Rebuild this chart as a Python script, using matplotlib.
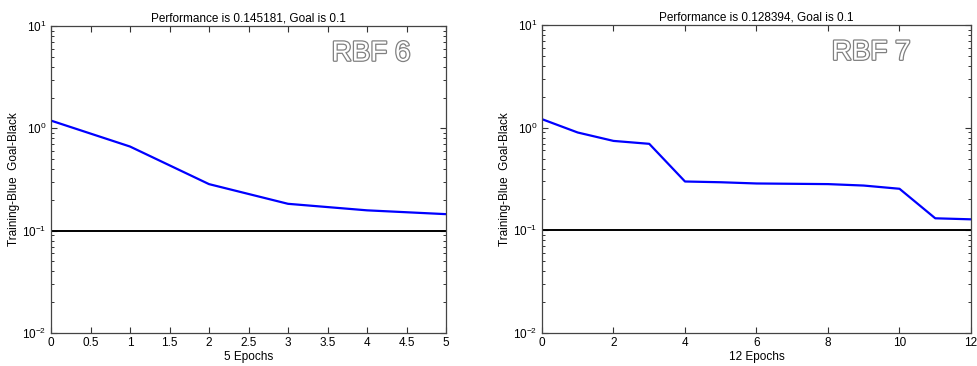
import matplotlib
matplotlib.use("Agg")
import matplotlib.pyplot as plt
import matplotlib.patheffects as pe
from matplotlib.ticker import LogLocator, NullFormatter, FixedLocator

epochs6 = [0, 1, 2, 3, 4, 5]
perf6 = [1.19, 0.664, 0.285, 0.183, 0.158, 0.145]
epochs7 = [0, 1, 2, 3, 4, 5, 6, 7, 8, 9, 10, 11, 12]
perf7 = [1.21, 0.897, 0.743, 0.696, 0.299, 0.294, 0.286, 0.284, 0.282, 0.273, 0.254, 0.131, 0.128]
goal = 0.1
titles = ["Performance is 0.145181, Goal is 0.1", "Performance is 0.128394, Goal is 0.1"]
xlabels = ["5 Epochs", "12 Epochs"]
labels = ["RBF 6", "RBF 7"]
xticks6 = [0, 0.5, 1, 1.5, 2, 2.5, 3, 3.5, 4, 4.5, 5]
xticklabels6 = ["0", "0.5", "1", "1.5", "2", "2.5", "3", "3.5", "4", "4.5", "5"]
xticks7 = [0, 2, 4, 6, 8, 10, 12]
xticklabels7 = ["0", "2", "4", "6", "8", "10", "12"]

plt.rcParams['font.family'] = ['Liberation Sans', 'DejaVu Sans']
fig = plt.figure(figsize=(9.78, 3.66), dpi=100)
W, H = 978, 366
boxes = [(51, 26, 446, 333), (542, 25, 971, 333)]
datasets = [(epochs6, perf6, xticks6, xticklabels6, 5), (epochs7, perf7, xticks7, xticklabels7, 12)]
label_pos = [(0.81, 0.91), (0.767, 0.91)]

for i, (box, (ex, py, xt, xtl, xmax)) in enumerate(zip(boxes, datasets)):
    l, t, r, b = box
    ax = fig.add_axes([l / W, 1 - b / H, (r - l) / W, (b - t) / H])
    ax.set_yscale('log')
    ax.plot(ex, py, color='#0000ff', lw=1.6, solid_joinstyle='round')
    ax.axhline(goal, color='black', lw=1.4)
    ax.set_xlim(0, xmax)
    ax.set_ylim(1e-2, 1e1)
    ax.set_xticks(xt)
    ax.set_xticklabels(xtl)
    ax.xaxis.set_minor_locator(FixedLocator([]))
    ax.yaxis.set_major_locator(LogLocator(base=10, numticks=10))
    ax.yaxis.set_minor_locator(LogLocator(base=10, subs=range(2, 10), numticks=20))
    ax.yaxis.set_minor_formatter(NullFormatter())
    ax.tick_params(which='both', direction='in', top=True, right=True, labelsize=8.5, colors='#333333', labelcolor='black')
    ax.tick_params(which='major', length=4, width=0.8)
    ax.tick_params(which='minor', length=2.5, width=0.7)
    ax.tick_params(axis='x', pad=3)
    for s in ax.spines.values():
        s.set_color('#444444')
        s.set_linewidth(0.9)
    ax.set_title(titles[i], fontsize=8.5, pad=3)
    ax.set_xlabel(xlabels[i], fontsize=8.5, labelpad=1)
    ax.set_ylabel("Training-Blue  Goal-Black", fontsize=8.5, labelpad=1)
    txt = ax.text(label_pos[i][0], label_pos[i][1], labels[i], transform=ax.transAxes,
                  ha='center', va='center', fontsize=20, color='white')
    txt.set_path_effects([pe.withStroke(linewidth=1.8, foreground='#808080')])

fig.savefig("out.png", dpi=100)
